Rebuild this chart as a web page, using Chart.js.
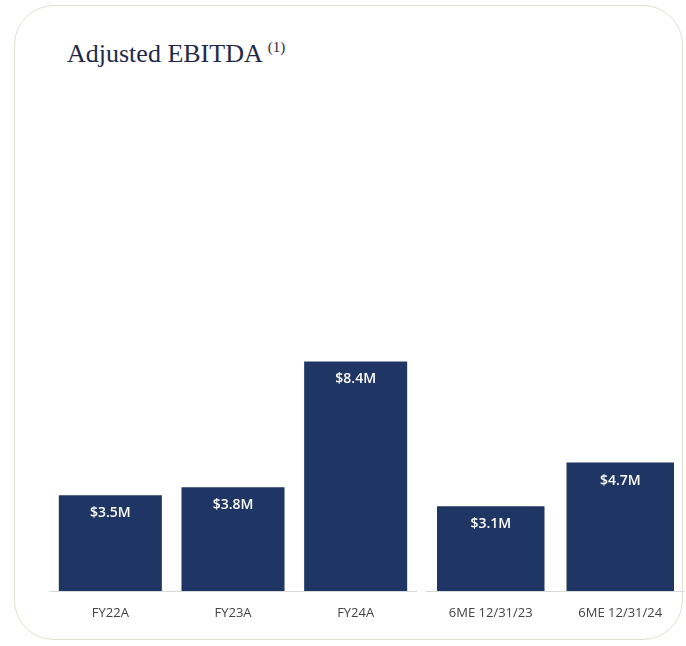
<!DOCTYPE html>
<html>
<head>
<meta charset="utf-8">
<script src="https://cdn.jsdelivr.net/npm/chart.js@4.4.1/dist/chart.umd.min.js"></script>
<style>
  html, body { margin: 0; padding: 0; background: #ffffff; }
  body { width: 686px; height: 646px; position: relative; overflow: hidden; }
  .card {
    position: absolute; left: 14px; top: 5px; width: 669px; height: 635px;
    border: 1.5px solid #e3dfd1; border-radius: 40px; box-sizing: border-box;
  }
  .title {
    position: absolute; left: 67px; top: 41px; line-height: 26px;
    font-family: "Liberation Serif", "DejaVu Serif", serif; font-size: 26px;
    color: #1f2a4a; white-space: nowrap;
  }
  .title sup { font-size: 15px; vertical-align: 0; position: relative; top: -10px; margin-left: 5px; }
  canvas { position: absolute; }
  #fy { left: 49px; top: 99px; }
  #half { left: 426px; top: 99px; }
</style>
</head>
<body>
<div class="card"></div>
<div class="title">Adjusted EBITDA<sup>(1)</sup></div>
<canvas id="fy" width="368" height="532"></canvas>
<canvas id="half" width="259" height="532"></canvas>
<script>
// Adjusted EBITDA, $ millions
const fiscalYears = ['FY22A', 'FY23A', 'FY24A'];
const fiscalEbitda = [3.5, 3.8, 8.4];
const halfYears = ['6ME 12/31/23', '6ME 12/31/24'];
const halfYearEbitda = [3.1, 4.7];
const yMax = 18;

const barColor = '#1f3563';

// White value labels just inside the top of each bar
const valueLabels = {
  id: 'valueLabels',
  afterDatasetsDraw(chart) {
    const ctx = chart.ctx;
    ctx.save();
    ctx.fillStyle = '#ffffff';
    ctx.font = '600 14px "Open Sans", "Noto Sans", sans-serif';
    ctx.textAlign = 'center';
    ctx.textBaseline = 'middle';
    chart.data.datasets.forEach((ds, i) => {
      chart.getDatasetMeta(i).data.forEach((bar, j) => {
        ctx.fillText('$' + ds.data[j].toFixed(1) + 'M', bar.x, bar.y + 18);
      });
    });
    ctx.restore();
  }
};

function makeChart(id, labels, values, barPct) {
  return new Chart(document.getElementById(id), {
    type: 'bar',
    data: {
      labels: labels,
      datasets: [{
        data: values,
        backgroundColor: barColor,
        categoryPercentage: 1,
        barPercentage: barPct
      }]
    },
    options: {
      responsive: false,
      animation: false,
      layout: { padding: 0 },
      plugins: { legend: { display: false }, tooltip: { enabled: false } },
      scales: {
        x: {
          grid: { display: false, drawTicks: false },
          border: { display: true, color: '#d9d9d9', width: 1 },
          ticks: {
            color: '#444444', padding: 14,
            font: { family: '"Open Sans", "Noto Sans", sans-serif', size: 13 }
          },
          afterFit(axis) { axis.height = 40; }
        },
        y: { display: false, min: 0, max: yMax }
      }
    },
    plugins: [valueLabels]
  });
}

makeChart('fy', fiscalYears, fiscalEbitda, 0.84);
makeChart('half', halfYears, halfYearEbitda, 0.83);
</script>
</body>
</html>
